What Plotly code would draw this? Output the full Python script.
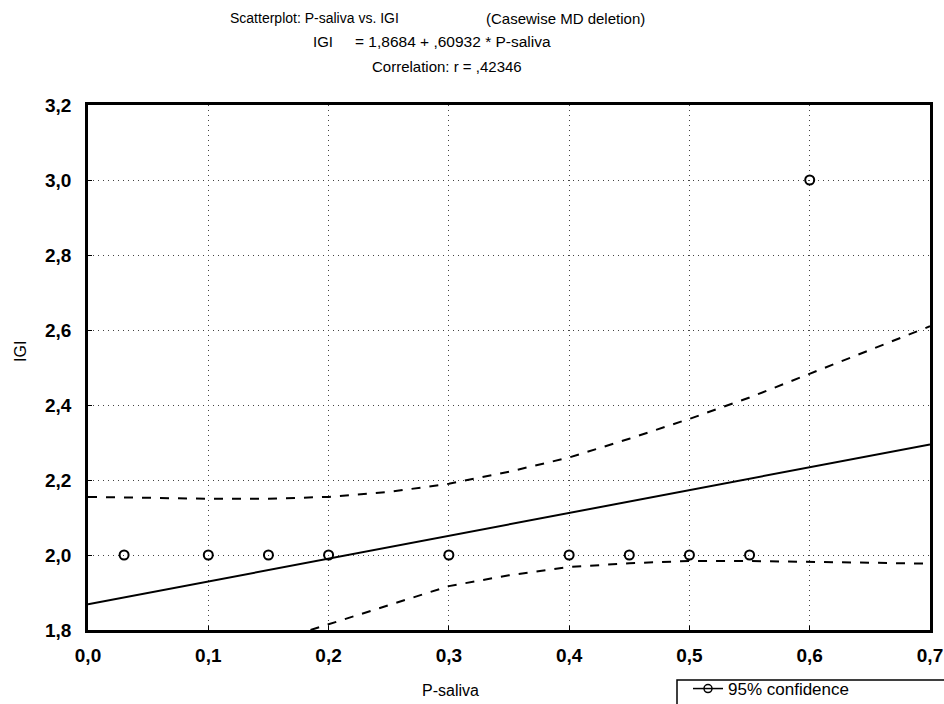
import plotly.graph_objects as go

# ---- data ----
x_ticks = [0.0, 0.1, 0.2, 0.3, 0.4, 0.5, 0.6, 0.7]
x_ticklabels = ["0,0", "0,1", "0,2", "0,3", "0,4", "0,5", "0,6", "0,7"]
y_ticks = [1.8, 2.0, 2.2, 2.4, 2.6, 2.8, 3.0, 3.2]
y_ticklabels = ["1,8", "2,0", "2,2", "2,4", "2,6", "2,8", "3,0", "3,2"]

p_saliva = [0.03, 0.10, 0.15, 0.20, 0.30, 0.40, 0.45, 0.50, 0.55, 0.60]
igi = [2.0, 2.0, 2.0, 2.0, 2.0, 2.0, 2.0, 2.0, 2.0, 3.0]

fit_x = [0.0, 0.7]
fit_y = [1.8684, 2.2949]

ci_up_x = [0.0, 0.05, 0.10, 0.15, 0.20, 0.25, 0.30, 0.35, 0.40, 0.45, 0.50, 0.55, 0.60, 0.65, 0.70]
ci_up_y = [2.155, 2.152, 2.150, 2.150, 2.155, 2.168, 2.190, 2.222, 2.260, 2.310, 2.363, 2.420, 2.483, 2.545, 2.610]

ci_lo_x = [0.185, 0.20, 0.25, 0.30, 0.35, 0.40, 0.45, 0.50, 0.55, 0.60, 0.65, 0.70]
ci_lo_y = [1.800, 1.815, 1.866, 1.917, 1.946, 1.968, 1.978, 1.984, 1.984, 1.982, 1.980, 1.977]

# (text, left pixel, middle pixel y, font size)
title_parts = [
    ("Scatterplot: P-saliva vs. IGI", 228, 18, 14),
    ("(Casewise MD deletion)", 484, 18, 15),
    ("IGI", 311, 42, 15),
    ("= 1,8684 + ,60932 * P-saliva", 353, 42, 15.5),
    ("Correlation: r = ,42346", 370, 67, 15),
]
x_title = "P-saliva"
y_title = "IGI"
legend_label = "95% confidence"

FONT = "Liberation Sans, Arial, sans-serif"
L, R, T, B = 88, 14, 105, 74
PW, PH = 944 - L - R, 704 - T - B

fig = go.Figure()

fig.add_trace(go.Scatter(x=ci_up_x, y=ci_up_y, mode="lines",
                         line=dict(color="black", width=2, dash="dash"),
                         showlegend=False, hoverinfo="skip"))
fig.add_trace(go.Scatter(x=ci_lo_x, y=ci_lo_y, mode="lines",
                         line=dict(color="black", width=2, dash="dash"),
                         showlegend=False, hoverinfo="skip"))
fig.add_trace(go.Scatter(x=fit_x, y=fit_y, mode="lines",
                         line=dict(color="black", width=2),
                         showlegend=False))
fig.add_trace(go.Scatter(x=p_saliva, y=igi, mode="markers",
                         marker=dict(symbol="circle-open", size=9,
                                     color="black", line=dict(width=2)),
                         showlegend=False))
# legend-only entry
fig.add_trace(go.Scatter(x=[None], y=[None], mode="lines+markers",
                         name=legend_label,
                         line=dict(color="black", width=1.5),
                         marker=dict(symbol="circle-open", size=8, color="black",
                                     line=dict(width=1.5)),
                         showlegend=True))

axis_common = dict(
    showline=True, linecolor="black", linewidth=2.5, mirror=True,
    ticks="inside", ticklen=4, tickcolor="black", tickwidth=1,
    showgrid=True, gridcolor="#444", gridwidth=1, griddash="1px,4px",
    zeroline=False,
    tickfont=dict(family=FONT, size=19, color="black", weight="bold"),
)

fig.update_xaxes(range=[0.0, 0.7], tickvals=x_ticks, ticktext=x_ticklabels,
                 ticklabelstandoff=6, **axis_common)
fig.update_yaxes(range=[1.8, 3.2], tickvals=y_ticks, ticktext=y_ticklabels,
                 ticklabelstandoff=10, **axis_common)

annotations = []
for text, px, py, fs in title_parts:
    annotations.append(dict(text=text, xref="paper", yref="paper",
                            x=(px - L) / PW, y=1 + (T - py) / PH,
                            xanchor="left", yanchor="middle", showarrow=False,
                            font=dict(family=FONT, size=fs, color="black")))
annotations.append(dict(text=x_title, xref="paper", yref="paper",
                        x=(450 - L) / PW, y=(630 - 690) / PH,
                        xanchor="center", yanchor="middle", showarrow=False,
                        font=dict(family=FONT, size=16, color="black")))
annotations.append(dict(text=y_title, xref="paper", yref="paper",
                        x=(20 - L) / PW, y=(630 - 352) / PH, textangle=-90,
                        xanchor="center", yanchor="middle", showarrow=False,
                        font=dict(family=FONT, size=16, color="black")))

fig.update_layout(
    width=944, height=704,
    margin=dict(l=L, r=R, t=T, b=B, autoexpand=False),
    paper_bgcolor="white", plot_bgcolor="white",
    showlegend=True,
    legend=dict(x=(688 - L) / PW, y=(630 - 671) / PH, xanchor="left", yanchor="top",
                bgcolor="rgba(0,0,0,0)", borderwidth=0,
                font=dict(family=FONT, size=17, color="black")),
    annotations=annotations,
    shapes=[dict(type="rect", xref="paper", yref="paper",
                 x0=(677 - L) / PW, x1=1.2, y0=(630 - 680) / PH, y1=-0.3,
                 line=dict(color="black", width=1.5), fillcolor="rgba(0,0,0,0)")],
)

fig.write_html("out.html")
